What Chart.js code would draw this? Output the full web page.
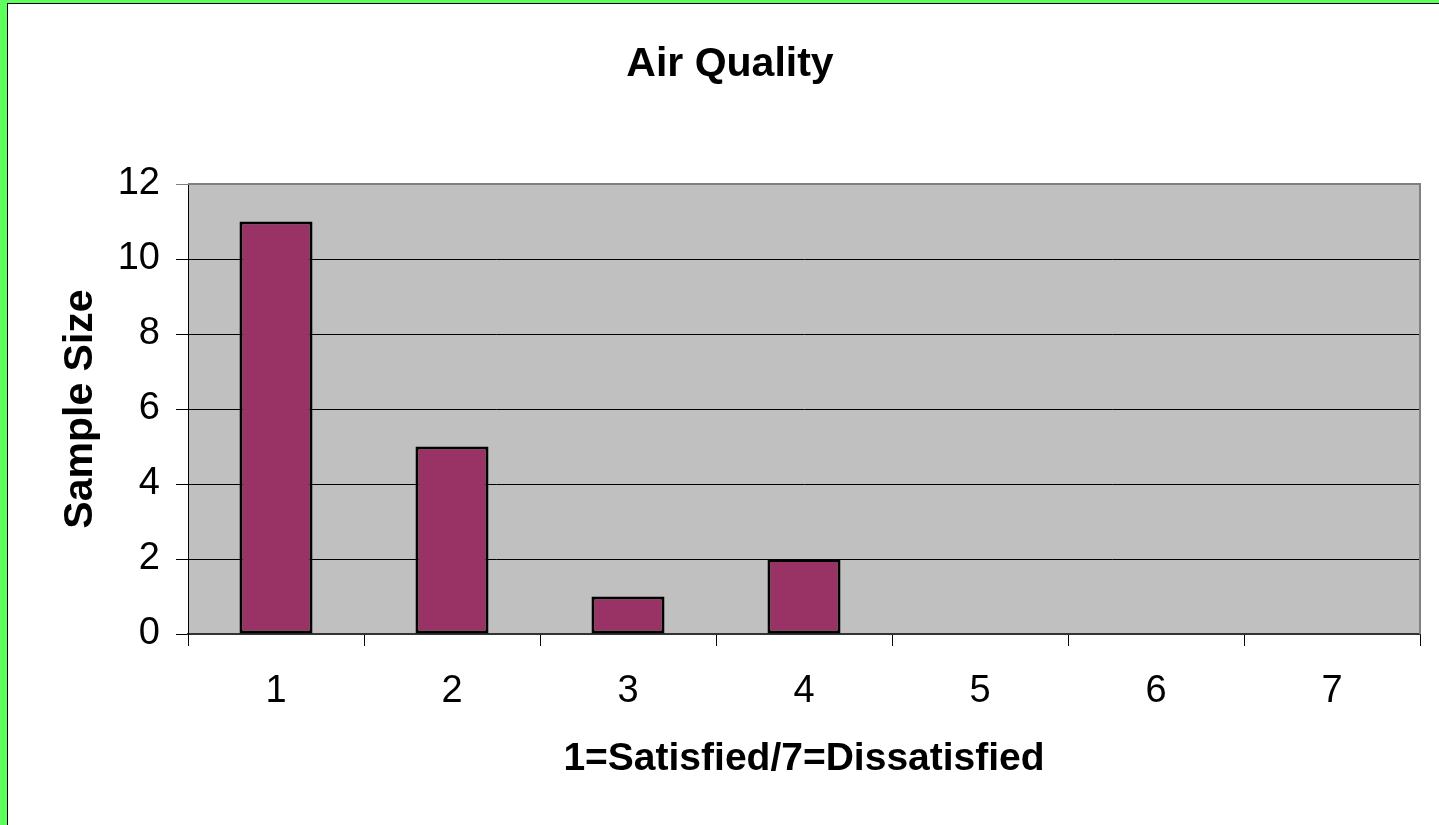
<!DOCTYPE html>
<html>
<head>
<meta charset="utf-8">
<script src="https://cdn.jsdelivr.net/npm/chart.js@4"></script>
<style>
  html, body { margin: 0; padding: 0; background: #fff; width: 1439px; height: 825px; overflow: hidden; }
  #wrap { position: absolute; left: 0; top: 0; width: 1439px; height: 825px; }
  .g { position: absolute; background: #5cff5c; z-index: 2; }
  .k { position: absolute; background: #000; z-index: 3; }
</style>
</head>
<body>
<div class="g" style="left:0;top:0;width:7px;height:825px"></div>
<div class="g" style="left:0;top:0;width:1439px;height:3px"></div>
<div class="k" style="left:7px;top:3px;width:1px;height:822px"></div>
<div class="k" style="left:7px;top:3px;width:1432px;height:1px"></div>
<div id="wrap"><canvas id="c" width="1439" height="825"></canvas></div>
<script>
const chartTitle = 'Air Quality';
const xTitle = '1=Satisfied/7=Dissatisfied';
const yTitle = 'Sample Size';
const categories = ['1', '2', '3', '4', '5', '6', '7'];
const sampleSize = [11, 5, 1, 2, 0, 0, 0];
const yMin = 0, yMax = 12, yStep = 2;

const FONT = '"Liberation Sans", Arial, Helvetica, sans-serif';

const decor = {
  id: 'decor',
  beforeDraw(chart) {
    const { ctx, chartArea: a } = chart;
    ctx.save();
    ctx.fillStyle = '#c0c0c0';
    ctx.fillRect(a.left, a.top, a.right - a.left, a.bottom - a.top);
    ctx.restore();
  },
  afterDraw(chart) {
    const { ctx, chartArea: a } = chart;
    ctx.save();
    ctx.strokeStyle = '#808080';
    ctx.lineWidth = 2;
    ctx.beginPath();
    ctx.moveTo(a.left, a.top);
    ctx.lineTo(a.right, a.top);
    ctx.lineTo(a.right, a.bottom);
    ctx.stroke();
    ctx.fillStyle = '#000';
    ctx.font = 'bold 41px ' + FONT;
    ctx.textAlign = 'center';
    ctx.textBaseline = 'middle';
    ctx.fillText(chartTitle, 730, 65);
    ctx.restore();
  }
};

new Chart(document.getElementById('c'), {
  type: 'bar',
  data: {
    labels: categories,
    datasets: [{
      data: sampleSize,
      backgroundColor: '#993366',
      borderColor: '#000',
      borderWidth: (c) => (c.raw === 0 ? 0 : 3),
      borderSkipped: false,
      barPercentage: 1,
      categoryPercentage: 0.415
    }]
  },
  options: {
    responsive: false,
    animation: false,
    devicePixelRatio: 1,
    layout: { padding: { left: 8, right: 19, top: 184, bottom: 0 } },
    plugins: { legend: { display: false }, title: { display: false }, tooltip: { enabled: false } },
    scales: {
      x: {
        afterFit: (s) => { s.height = 191; },
        grid: { offset: true, drawOnChartArea: false, drawTicks: true, tickLength: 12, color: '#000', lineWidth: 1 },
        border: { display: true, color: '#333', width: 2 },
        ticks: { color: '#000', font: { family: FONT, size: 38 }, padding: 23, maxRotation: 0 },
        title: { display: true, text: xTitle, color: '#000', font: { family: FONT, size: 39, weight: 'bold' }, padding: { top: 0, bottom: 42 } }
      },
      y: {
        min: yMin, max: yMax,
        afterFit: (s) => { s.width = 180; },
        grid: { color: (c) => (c.tick && c.tick.value === yMax ? '#808080' : '#000'), lineWidth: 1, tickLength: 12 },
        border: { display: true, color: '#000', width: 1 },
        ticks: { stepSize: yStep, color: '#000', font: { family: FONT, size: 38 }, padding: 16 },
        title: { display: true, text: yTitle, color: '#000', font: { family: FONT, size: 41, weight: 'bold' }, padding: { top: 48, bottom: 0 } }
      }
    }
  },
  plugins: [decor]
});
</script>
</body>
</html>
